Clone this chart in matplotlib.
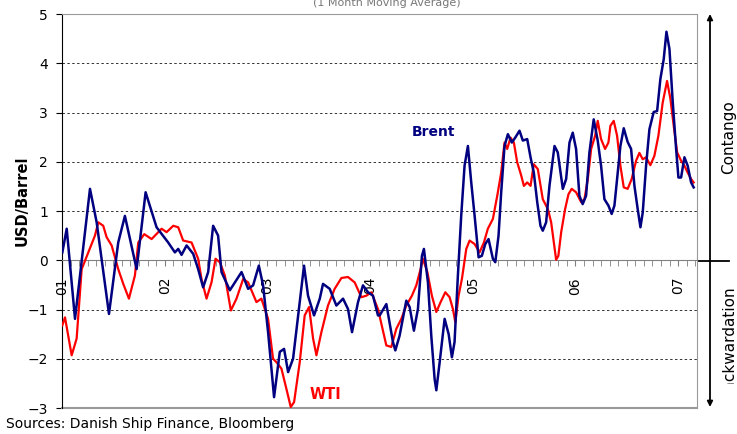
import matplotlib.pyplot as plt
from matplotlib.ticker import MultipleLocator, FixedLocator
from matplotlib.transforms import Bbox

# months since Jan 2001, spread in USD/barrel (1 month moving average)
brent_m = [0.04, 0.55, 1.52, 3.27, 4.05, 5.49, 6.57, 7.35, 8.72, 9.77, 11.05, 12.41, 13.19,
           13.58, 13.97, 14.56, 15.33, 15.91, 16.49, 17.08, 17.66, 18.24, 18.64, 19.61,
           20.98, 21.75, 22.33, 23.0, 23.5, 24.08, 24.78, 25.45, 25.95, 26.42, 27.0, 27.78,
           28.28, 28.75, 29.45, 30.12, 30.5, 31.28, 32.06, 32.84, 33.42, 33.89, 34.59,
           35.17, 35.76, 36.34, 36.92, 37.12, 37.9, 38.67, 38.95, 39.45, 40.23, 40.62,
           41.12, 41.59, 42.06, 42.29, 42.76, 43.15, 43.54, 43.74, 44.13, 44.71, 45.18,
           45.56, 45.87, 46.26, 46.65, 47.04, 47.43, 47.82, 48.21, 48.68, 49.06, 49.46,
           49.84, 50.35, 50.63, 51.01, 51.32, 51.71, 52.1, 52.56, 52.96, 53.46, 53.85,
           54.36, 54.75, 55.13, 55.53, 55.91, 56.18, 56.57, 56.96, 57.55, 57.93, 58.52,
           58.91, 59.3, 59.68, 60.07, 60.46, 60.84, 61.24, 61.63, 62.13, 62.6, 62.99,
           63.38, 63.85, 64.23, 64.55, 64.94, 65.25, 65.64, 66.1, 66.5, 66.89, 67.27,
           67.59, 67.86, 68.25, 68.64, 69.14, 69.54, 69.92, 70.31, 70.63, 70.98, 71.37,
           71.76, 72.03, 72.34, 72.73, 73.11, 73.51, 73.81]
brent_v = [0.16, 0.64, -1.19, 1.45, 0.77, -1.09, 0.36, 0.90, -0.18, 1.38, 0.67, 0.36, 0.16,
           0.23, 0.11, 0.30, 0.13, -0.18, -0.55, -0.24, 0.70, 0.50, -0.24, -0.61,
           -0.24, -0.58, -0.51, -0.11, -0.51, -1.46, -2.78, -1.86, -1.80, -2.27, -2.00, -0.85,
           -0.11, -0.72, -1.12, -0.78, -0.48, -0.58, -0.92, -0.78, -0.99, -1.46, -0.85,
           -0.51, -0.65, -0.72, -1.12, -1.12, -0.89, -1.66, -1.83, -1.53, -0.82, -0.95,
           -1.43, -0.99, 0.09, 0.23, -0.45, -1.53, -2.41, -2.64, -2.07, -1.19, -1.50,
           -1.97, -1.66, -0.31, 0.91, 1.92, 2.32, 1.58, 0.91, 0.06, 0.09, 0.33,
           0.43, 0.03, -0.04, 0.50, 1.38, 2.32, 2.56, 2.39, 2.49, 2.63, 2.43,
           2.46, 2.09, 1.78, 1.18, 0.70, 0.60, 0.77, 1.51, 2.32, 2.19, 1.45,
           1.65, 2.39, 2.59, 2.26, 1.31, 1.14, 1.31, 2.19, 2.86, 2.43, 1.92,
           1.24, 1.11, 0.94, 1.11, 1.78, 2.32, 2.68, 2.40, 2.26, 1.51, 1.04,
           0.67, 0.97, 1.92, 2.66, 3.01, 3.03, 3.68, 4.08, 4.64, 4.29, 3.20,
           2.26, 1.68, 1.68, 2.09, 1.92, 1.58, 1.48]

wti_m = [0.04, 0.35, 1.13, 1.71, 2.3, 3.07, 3.85, 4.24, 4.82, 5.21, 5.8, 6.57, 7.16, 7.82,
         8.52, 8.91, 9.61, 10.47, 11.64, 12.22, 13.0, 13.58, 14.16, 15.14, 15.91, 16.3,
         16.89, 17.47, 17.94, 18.44, 19.03, 19.73, 20.39, 21.17, 21.75, 22.72, 23.3, 24.08,
         24.66, 25.06, 25.64, 26.22, 26.73, 27.12, 27.78, 28.36, 28.87, 29.34, 29.73,
         30.31, 31.08, 31.86, 32.65, 33.42, 34.2, 34.98, 35.56, 36.15, 36.92, 37.32,
         37.9, 38.48, 39.07, 39.65, 40.23, 40.89, 41.4, 41.9, 42.17, 42.69, 43.22, 43.74,
         44.24, 44.79, 45.29, 45.68, 45.96, 46.34, 46.73, 47.24, 47.63, 48.21, 48.79,
         49.3, 49.76, 50.35, 50.86, 51.32, 51.71, 52.02, 52.41, 52.8, 53.19, 53.66,
         53.97, 54.36, 54.75, 55.13, 55.6, 56.18, 56.77, 57.16, 57.47, 57.74, 58.0,
         58.33, 58.79, 59.18, 59.56, 60.07, 60.66, 61.05, 61.44, 61.83, 62.3, 62.6,
         62.99, 63.46, 63.85, 64.08, 64.47, 64.86, 65.25, 65.64, 66.1, 66.57, 67.08,
         67.47, 67.86, 68.25, 68.75, 69.22, 69.69, 70.19, 70.7, 71.09, 71.48, 71.88,
         72.34, 72.73, 73.11, 73.51, 73.81]
wti_v = [-1.32, -1.16, -1.93, -1.59, -0.18, 0.16, 0.50, 0.77, 0.70, 0.47, 0.30, -0.18, -0.48, -0.78,
         -0.31, 0.36, 0.53, 0.43, 0.64, 0.57, 0.70, 0.67, 0.40, 0.36, 0.03, -0.38,
         -0.78, -0.45, 0.03, -0.04, -0.31, -1.02, -0.78, -0.38, -0.45, -0.85, -0.78, -1.19,
         -2.00, -2.07, -2.20, -2.61, -2.98, -2.88, -2.07, -1.12, -0.95, -1.59, -1.93,
         -1.46, -0.92, -0.58, -0.36, -0.34, -0.45, -0.75, -0.72, -0.65, -0.99, -1.29,
         -1.73, -1.76, -1.39, -1.19, -0.92, -0.72, -0.51, -0.18, 0.03, -0.24, -0.72, -1.05,
         -0.85, -0.65, -0.75, -0.99, -1.26, -0.72, -0.38, 0.23, 0.40, 0.33, 0.16,
         0.36, 0.64, 0.84, 1.31, 1.78, 2.39, 2.26, 2.49, 2.39, 1.99, 1.72,
         1.51, 1.58, 1.51, 1.95, 1.85, 1.24, 1.04, 0.77, 0.36, 0.01, 0.09,
         0.57, 1.04, 1.34, 1.45, 1.38, 1.18, 1.24, 1.65, 2.26, 2.53, 2.83,
         2.46, 2.26, 2.39, 2.73, 2.83, 2.53, 1.92, 1.48, 1.45, 1.65, 2.02,
         2.18, 2.05, 2.09, 1.93, 2.12, 2.53, 3.20, 3.64, 3.28, 2.73, 2.19,
         2.02, 1.92, 1.78, 1.65, 1.58]

year_labels = ['01', '02', '03', '04', '05', '06', '07']

W, H = 737, 434
fig = plt.figure(figsize=(W / 100, H / 100), dpi=100)
ax = fig.add_axes([62 / W, 1 - 408 / H, (697 - 62) / W, (408 - 14) / H])

ax.plot(wti_m, wti_v, color='#ff0000', lw=1.6, zorder=3)
ax.plot(brent_m, brent_v, color='#000080', lw=1.8, zorder=4)

ax.set_xlim(0, 74.2)
ax.set_ylim(-3, 5)

# dotted grid at non-zero levels
for g in [-2, -1, 1, 2, 3, 4]:
    ax.axhline(g, color='#333333', lw=0.7, ls=(0, (2.5, 2.5)), zorder=1)

# frame
grey = '#999999'
ax.spines['left'].set_color('black')
ax.spines['top'].set_color(grey)
ax.spines['right'].set_color(grey)
ax.spines['bottom'].set_position(('data', 0))
ax.spines['bottom'].set_color('#808080')
ax.axhline(-3, color=grey, lw=1.5, clip_on=False)

ax.set_yticks(range(-3, 6))
ax.tick_params(axis='y', direction='out', length=4, pad=6, labelsize=10, color='black')

ax.xaxis.set_major_locator(FixedLocator([12 * i for i in range(len(year_labels))]))
ax.set_xticklabels(year_labels, rotation=90, fontsize=10, va='top')
ax.xaxis.set_minor_locator(MultipleLocator(1))
ax.tick_params(axis='x', which='both', direction='out', length=4, color='#808080', pad=8)

fig.text(22 / W, 1 - 201 / H, 'USD/Barrel', rotation=90, fontsize=10.5, fontweight='bold',
         ha='center', va='center')

ax.text(43.4, 2.6, 'Brent', color='#000080', fontsize=10, fontweight='bold', ha='center', va='center')
ax.text(30.76, -2.73, 'WTI', color='#ff0000', fontsize=10.5, fontweight='bold', ha='center', va='center')

fig.text(387 / W, 1 - 3 / H, '(1 Month Moving Average)', fontsize=8, color='#777777', ha='center', va='center')
fig.text(6 / W, 1 - 424 / H, 'Sources: Danish Ship Finance, Bloomberg', fontsize=10, ha='left', va='center')

# contango / backwardation arrow
ax2 = fig.add_axes([0, 0, 1, 1], facecolor='none')
ax2.set_axis_off()
ax2.set_xlim(0, W)
ax2.set_ylim(H, 0)
ax2.annotate('', xy=(710, 14), xytext=(710, 261),
             arrowprops=dict(arrowstyle='-|>', color='black', lw=1.3, mutation_scale=8, shrinkA=0, shrinkB=0))
ax2.annotate('', xy=(710, 407), xytext=(710, 261),
             arrowprops=dict(arrowstyle='-|>', color='black', lw=1.3, mutation_scale=8, shrinkA=0, shrinkB=0))
ax2.plot([699, 729], [261, 261], color='black', lw=1.3)
ax2.text(729, 137, 'Contango', rotation=90, fontsize=11, ha='center', va='center')
t = ax2.text(729, 342, 'Backwardation', rotation=90, fontsize=11, ha='center', va='center')
t.set_clip_on(True)
t.set_clip_box(Bbox.from_extents(700, 50, W, 160))

fig.savefig('out.png', dpi=100)
